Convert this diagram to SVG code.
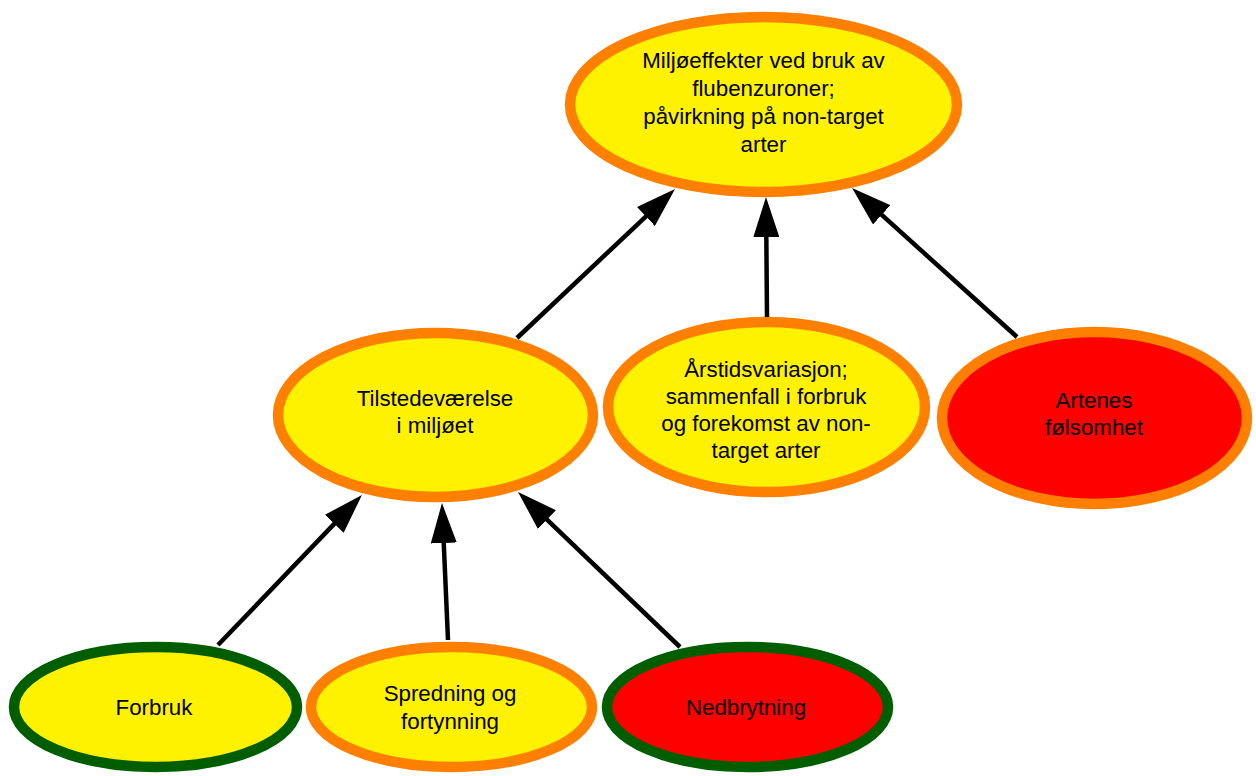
<svg xmlns="http://www.w3.org/2000/svg" width="1256" height="776" viewBox="0 0 1256 776">
<defs>
<style>
.n{stroke-width:10.5}
.y{fill:#FFF200}
.r{fill:#FF0000}
.o{stroke:#FF8000}
.g{stroke:#005E00}
text{font-family:"Liberation Sans",Arial,sans-serif;font-size:22.3px;fill:#000;text-anchor:middle}
.c line{stroke:#000;stroke-width:4.5;marker-end:url(#ah)}
</style>
<marker id="ah" markerUnits="userSpaceOnUse" markerWidth="40" markerHeight="26" refX="10" refY="13" orient="auto" viewBox="0 0 40 26">
<path d="M0,0 L40,13 L0,26 z" fill="#000"/>
</marker>
</defs>
<rect width="1256" height="776" fill="#fff"/>
<g id="top">
<ellipse class="n y o" cx="763.5" cy="104.5" rx="193.5" ry="87.5"/>
<text x="763.5" y="68">Miljøeffekter ved bruk av</text>
<text x="763.5" y="96">flubenzuroner;</text>
<text x="763.5" y="124">påvirkning på non-target</text>
<text x="763.5" y="152">arter</text>
</g>
<g id="tilstede">
<ellipse class="n y o" cx="435.5" cy="415" rx="157.5" ry="82"/>
<text x="435" y="406">Tilstedeværelse</text>
<text x="435" y="433">i miljøet</text>
</g>
<g id="arstids">
<ellipse class="n y o" cx="766.5" cy="407" rx="158.5" ry="85"/>
<text x="766" y="377">Årstidsvariasjon;</text>
<text x="766" y="404">sammenfall i forbruk</text>
<text x="766" y="431">og forekomst av non-</text>
<text x="766" y="458">target arter</text>
</g>
<g id="artenes">
<ellipse class="n r o" cx="1094.5" cy="418" rx="152.5" ry="86"/>
<text x="1094" y="408">Artenes</text>
<text x="1094" y="435">følsomhet</text>
</g>
<g id="forbruk">
<ellipse class="n y g" cx="155.5" cy="707" rx="141.5" ry="60"/>
<text x="154" y="715">Forbruk</text>
</g>
<g id="spredning">
<ellipse class="n y o" cx="451.5" cy="707" rx="140.5" ry="60"/>
<text x="450" y="701">Spredning og</text>
<text x="450" y="729">fortynning</text>
</g>
<g id="nedbrytning">
<ellipse class="n r g" cx="747.5" cy="707" rx="140.5" ry="60"/>
<text x="746" y="715">Nedbrytning</text>
</g>
<g id="connectors" class="c">
<line x1="218" y1="645" x2="341.2" y2="516.6"/>
<line x1="448" y1="640" x2="443.3" y2="533"/>
<line x1="680" y1="647" x2="539.7" y2="512.7"/>
<line x1="517" y1="338" x2="653.2" y2="209.6"/>
<line x1="767" y1="317" x2="766.25" y2="227"/>
<line x1="1017" y1="337" x2="874.3" y2="208.1"/>
</g>
</svg>
